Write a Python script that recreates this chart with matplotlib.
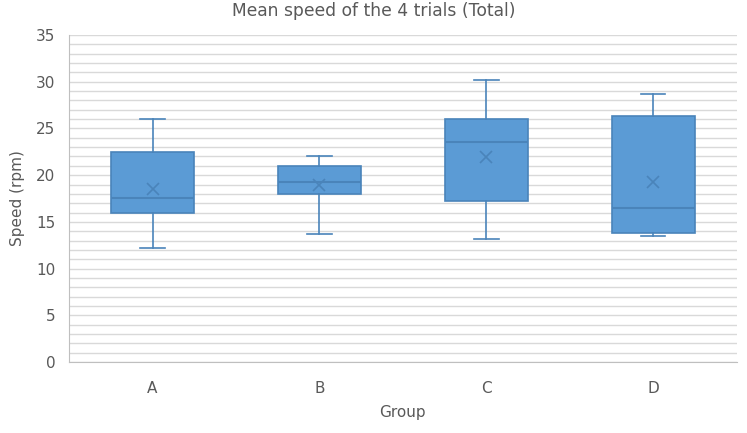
import matplotlib
matplotlib.use("Agg")
import matplotlib.pyplot as plt
from matplotlib.ticker import MultipleLocator

groups = ["A", "B", "C", "D"]
whisker_low = [12.2, 13.7, 13.2, 13.5]
q1 = [16.0, 18.0, 17.2, 13.8]
medians = [17.6, 19.3, 23.5, 16.5]
q3 = [22.5, 21.0, 26.0, 26.3]
whisker_high = [26.0, 22.0, 30.2, 28.7]
means = [18.5, 18.9, 21.9, 19.3]

text_color = "#595959"
fill_color = "#5B9BD5"
edge_color = "#4A84BA"

stats = []
for i, g in enumerate(groups):
    stats.append({
        "label": g, "whislo": whisker_low[i], "q1": q1[i], "med": medians[i],
        "q3": q3[i], "whishi": whisker_high[i], "mean": means[i], "fliers": [],
    })

fig = plt.figure(figsize=(7.47, 4.33), dpi=100)
ax = fig.add_axes([0.0924, 0.164, 0.894, 0.755])

ax.bxp(
    stats, positions=range(1, len(groups) + 1), widths=0.5, patch_artist=True,
    showmeans=True, showfliers=False,
    boxprops=dict(facecolor=fill_color, edgecolor=edge_color, linewidth=1.2),
    medianprops=dict(color=edge_color, linewidth=1.5),
    whiskerprops=dict(color=edge_color, linewidth=1.2),
    capprops=dict(color=edge_color, linewidth=1.2),
    meanprops=dict(marker="x", markeredgecolor=edge_color, markersize=9, markeredgewidth=1.2),
    capwidths=0.145, zorder=3,
)

ax.set_xlim(0.5, 4.5)
ax.set_ylim(0, 35)
ax.yaxis.set_major_locator(MultipleLocator(5))
ax.yaxis.set_minor_locator(MultipleLocator(1))
ax.grid(axis="y", which="both", color="#D9D9D9", linewidth=1.0, zorder=0)
ax.set_axisbelow(True)

for side in ["top", "right"]:
    ax.spines[side].set_visible(False)
for side in ["left", "bottom"]:
    ax.spines[side].set_color("#BFBFBF")
ax.tick_params(axis="both", which="both", length=0, colors=text_color, labelsize=11)
ax.tick_params(axis="x", pad=14)
ax.tick_params(axis="y", pad=10)

ax.set_xlabel("Group", color=text_color, fontsize=11, labelpad=6)
ax.set_ylabel("Speed (rpm)", color=text_color, fontsize=11, labelpad=8)
# title is centred on the figure, not on the plot area
ax.set_title("Mean speed of the 4 trials (Total)", color=text_color, fontsize=12.3,
             pad=14, x=0.456)

fig.savefig("out.png", dpi=100)
